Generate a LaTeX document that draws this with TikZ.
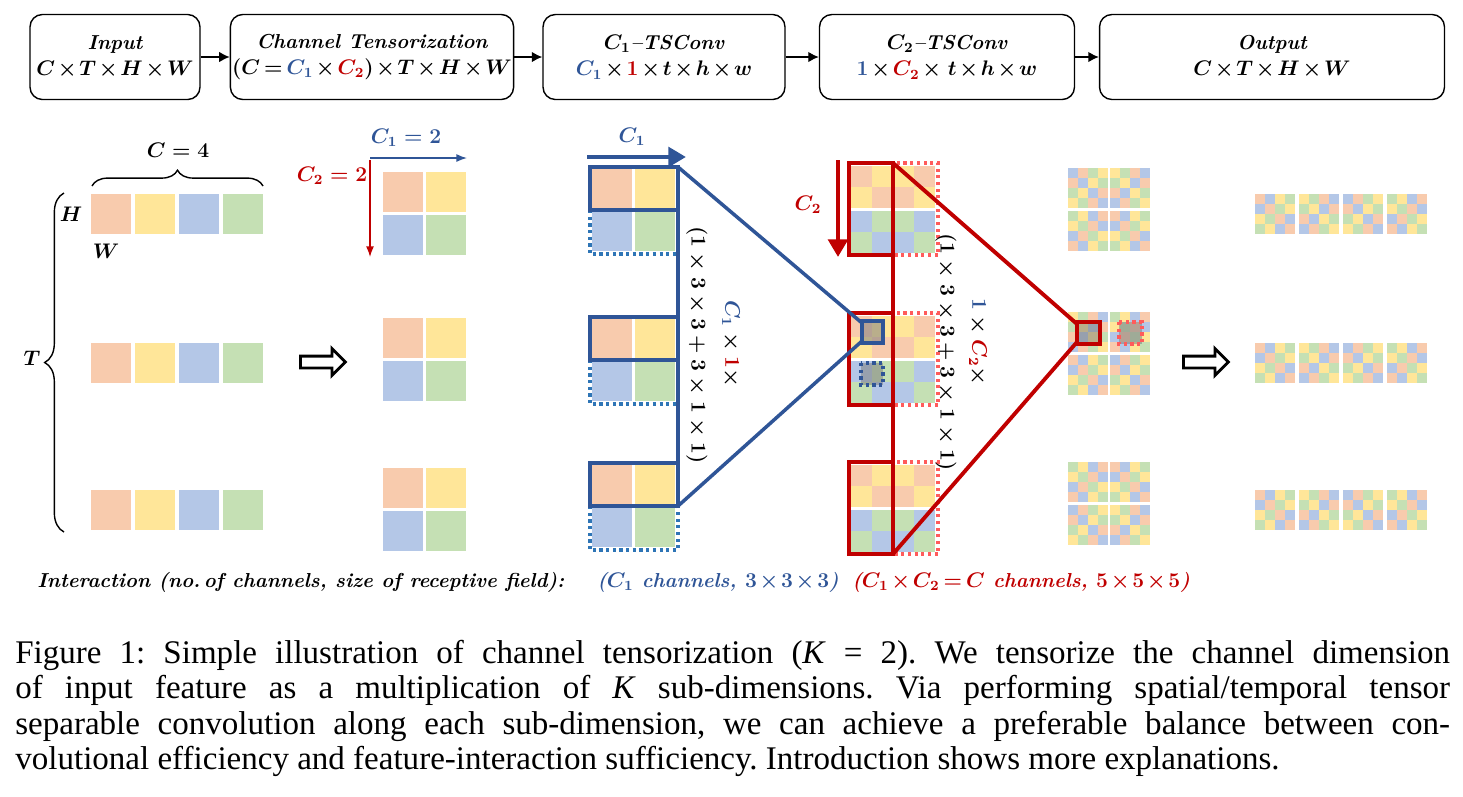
\documentclass[tikz,border=0pt]{standalone}
\usepackage{amsmath,amssymb}
\usepackage{fontspec}
\newfontfamily\capfont{Liberation Serif}
\usetikzlibrary{calc,arrows.meta,decorations.pathreplacing,shapes.arrows}

\definecolor{c0}{HTML}{F8CBAD}
\definecolor{c1}{HTML}{FFE699}
\definecolor{c2}{HTML}{B4C7E7}
\definecolor{c3}{HTML}{C5E0B4}
\definecolor{tsblue}{HTML}{2F5597}
\definecolor{tsred}{HTML}{C00000}
\definecolor{dotblue}{HTML}{2E75B6}
\definecolor{dotred}{HTML}{FF5B5B}
\newcommand{\tightmath}{\medmuskip=2mu\relax\thickmuskip=3mu\relax}

\begin{document}
\begin{tikzpicture}[
		x=0.02cm, y=-0.02cm,
		stage/.style={draw, thick, rounded corners=7pt, minimum height=1.7cm, align=center, inner sep=1pt,
			font=\fontsize{11.5}{15}\selectfont\bfseries\itshape\boldmath\tightmath},
		flow/.style={thick, -{Latex[length=6pt,width=6pt]}},
		tag/.style={font=\fontsize{12}{14}\selectfont\boldmath},
		]
		\tikzset{
			blueFrame/.style={tsblue, line width=2pt},
			blueDots/.style={dotblue, line width=1.8pt, dotted},
			redFrame/.style={tsred, line width=2.2pt},
			redDots/.style={dotred, line width=1.8pt, dotted},
			probe/.style={fill=gray, fill opacity=0.55},
			hollow/.style={single arrow, draw, line width=1.6pt, minimum height=0.9cm,
				single arrow head extend=0.15cm, inner sep=0.09cm},
			kernel/.style={rotate=-90, font=\fontsize{11.5}{13}\selectfont\boldmath},
			remark/.style={anchor=west, inner sep=0pt,
				font=\fontsize{11.5}{13}\selectfont\bfseries\itshape\boldmath\tightmath},
		}
		\useasboundingbox (0,0) rectangle (1463,796);
		
		% pipeline
		\node[stage, minimum width=3.4cm] (input) at (115,57) {Input\\$C\times T\times H\times W$};
		\node[stage, minimum width=5.5cm] (tensor) at (372,57)
		{Channel Tensorization\\$(C={\color{tsblue}C_1}\times{\color{tsred}C_2})\times T\times H\times W$};
		\node[stage, minimum width=4.84cm] (convA) at (664,57)
		{$C_1$--TSConv\\${\color{tsblue}C_1}\times{\color{tsred}1}\times t\times h\times w$};
		\node[stage, minimum width=5.1cm] (convB) at (947,57)
		{$C_2$--TSConv\\${\color{tsblue}1}\times{\color{tsred}C_2}\times\; t\times h\times w$};
		\node[stage, minimum width=6.9cm] (output) at (1272,57) {Output\\$C\times T\times H\times W$};
		\draw[flow] (input) -- (tensor);
		\draw[flow] (tensor) -- (convA);
		\draw[flow] (convA) -- (convB);
		\draw[flow] (convB) -- (output);
		
		% input frames
		\foreach \gy in {194,343,490}{
			\foreach \j in {0,...,3}{
				\fill[c\j] ({91+44*\j},\gy) rectangle ++(40,40);
			}
		}
		\draw[decorate, decoration={brace, amplitude=9pt}, thick] (92,186) -- (263,186);
		\node[tag] (cnum) at (178,150) {$C=4$};
		\node[tag] (hlab) at (71,214) {$H$};
		\node[tag] (wlab) at (106,251) {$W$};
		\draw[decorate, decoration={brace, amplitude=11pt}, thick] (64,532) -- (64,193);
		\node[tag] (tlab) at (32,358) {$T$};
		\node[hollow] (toTensor) at (320,362) {};
		
		% channel tensorization
		\foreach \gy in {172,318,468}{
			\fill[c0] (383,\gy) rectangle ++(40,40);
			\fill[c1] (426,\gy) rectangle ++(40,40);
			\fill[c2] (383,\gy+43) rectangle ++(40,40);
			\fill[c3] (426,\gy+43) rectangle ++(40,40);
		}
		\draw[tsblue, thick, -{Latex[length=6pt]}] (370,158) -- (467,158);
		\node[tag, text=tsblue] (cone) at (406,138) {$C_1=2$};
		\draw[tsred, thick, -{Latex[length=6pt]}] (370,160) -- (370,257);
		\node[tag, text=tsred] (ctwo) at (332,176) {$C_2=2$};
		
		% C1-TSConv
		\foreach \gy in {168,318,464}{
			\fill[c0] (592,\gy) rectangle ++(40,40);
			\fill[c1] (635,\gy) rectangle ++(40,40);
			\fill[c2] (592,\gy+43) rectangle ++(40,40);
			\fill[c3] (635,\gy+43) rectangle ++(40,40);
			\draw[blueDots] (590,\gy+42) rectangle (678,\gy+86);
			\draw[blueFrame] (590,\gy-1) rectangle (678,\gy+42);
		}
		\draw[blueFrame] (678,167) -- (678,506);
		\draw[tsblue, line width=2.6pt, -{Triangle[length=10pt,width=11pt]}] (587,157) -- (686,157);
		\node[tag, text=tsblue] (conelab) at (632,137) {$C_1$};
		\node[kernel] (kernA) at (697,345) {$(1\times3\times3+3\times1\times1)$};
		\node[kernel] (factA) at (731,344) {${\color{tsblue}C_1}\times{\color{tsred}1}\times$};
		
		% C2-TSConv
		\foreach \gy in {166,316,465}{
			\foreach \r in {0,1}{
				\foreach \c in {0,...,3}{
					\pgfmathtruncatemacro\ci{mod(\r+\c+floor(\c/2),2)}
					\pgfmathtruncatemacro\cj{\ci+2}
					\fill[c\ci] ({851+21*\c},{\gy+21*\r}) rectangle ++(21,21);
					\fill[c\cj] ({851+21*\c},{\gy+45+21*\r}) rectangle ++(21,21);
				}
			}
			\draw[redDots] (893,\gy-3) rectangle (938,\gy+89);
			\draw[redFrame] (849,\gy-3) rectangle (893,\gy+89);
		}
		\draw[redFrame] (893,163) -- (893,554);
		\draw[tsred, line width=2.6pt, -{Triangle[length=10pt,width=11pt]}] (838,160) -- (838,257);
		\node[tag, text=tsred] (ctwolab) at (808,205) {$C_2$};
		\node[kernel] (kernB) at (946,352) {$(1\times3\times3+3\times1\times1)$};
		\node[kernel] (factB) at (978,342) {${\color{tsblue}1}\times{\color{tsred}C_2}\times$};
		
		% mixed frames
		\foreach \gy [count=\g] in {168,312,462}{
			\foreach \bx in {0,1}{
				\foreach \by in {0,1}{
					\pgfmathtruncatemacro\k{mod(\bx+2*\by+\g,4)}
					\foreach \i in {0,...,3}{
						\foreach \j in {0,...,3}{
							\pgfmathtruncatemacro\ci{2*mod(mod(\i,2)+mod(\j,2)+mod(\k,2),2)+mod(floor(\i/2)+floor(\j/2)+floor(\k/2),2)}
							\fill[c\ci] ({1068+42*\bx+10*\j},{\gy+43*\by+10*\i}) rectangle ++(10,10);
						}
					}
				}
			}
		}
		\node[hollow] (toOutput) at (1203,362) {};
		
		% output frames
		\foreach \gy in {194,343,490}{
			\foreach \k [count=\b from 0] in {0,2,1,3}{
				\foreach \i in {0,...,3}{
					\foreach \j in {0,...,3}{
						\pgfmathtruncatemacro\ci{2*mod(mod(\i,2)+mod(\j,2)+mod(\k,2),2)+mod(floor(\i/2)+floor(\j/2)+floor(\k/2),2)}
						\fill[c\ci] ({1255+44*\b+10*\j},{\gy+10*\i}) rectangle ++(10,10);
					}
				}
			}
		}
		
		% receptive fields
		\draw[blueFrame] (678,167) -- (862,323);
		\draw[blueFrame] (678,506) -- (862,341);
		\draw[redFrame] (893,163) -- (1077,324);
		\draw[redFrame] (893,554) -- (1077,342);
		\draw[blueFrame, probe] (862,321) rectangle (883,343);
		\draw[blueDots, draw=tsblue, probe] (861,363) rectangle (883,385);
		\draw[redFrame, line width=2.4pt, probe] (1077,322) rectangle (1100,344);
		\draw[redDots, probe] (1119,322) rectangle (1142,344);
		
		% interaction line
		\node[remark] (inter) at (37,582) {Interaction (no.\,of channels, size of receptive field):};
		\node[remark, text=tsblue] (interA) at (597,582) {($C_1$ channels, $3\times3\times3$)};
		\node[remark, text=tsred] (interB) at (852,582) {($C_1\times C_2=C$ channels, $5\times5\times5$)};
		
		% caption
		\node[anchor=north west, text width=28.7cm, align=justify, inner sep=0pt,
		font=\capfont\fontsize{18.8}{20.1}\selectfont\frenchspacing] (caption) at (15,640)
		{Figure 1: Simple illustration of channel tensorization (\textit{K} = 2). We tensorize the channel dimension\linebreak
			of input feature as a multiplication of \textit{K} sub-dimensions. Via performing spatial/temporal tensor\linebreak
			separable convolution along each sub-dimension, we can achieve a preferable balance between con-\linebreak
			volutional efficiency and feature-interaction sufficiency. Introduction shows more explanations.};
	\end{tikzpicture}
\end{document}
